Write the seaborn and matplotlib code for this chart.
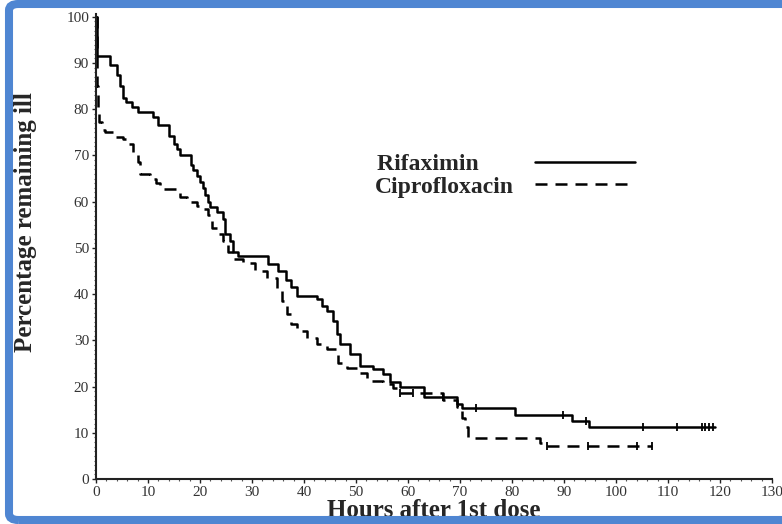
import matplotlib
matplotlib.use("Agg")
import matplotlib.pyplot as plt
import seaborn as sns
import numpy as np
import pandas as pd
from matplotlib.patches import FancyBboxPatch
from matplotlib.ticker import MultipleLocator

# ---- data ----
rif_t = [0, 0.2, 2.7, 4.0, 4.6, 5.2, 5.8, 6.9, 8.1, 11.0, 12.0, 14.0, 15.0, 15.6,
         16.2, 18.3, 18.7, 19.5, 20.0, 20.5, 21.0, 21.5, 21.9, 23.2, 24.4, 24.8,
         25.8, 26.3, 27.3, 33.0, 35.0, 36.5, 37.5, 38.6, 42.5, 43.5, 44.4, 45.6,
         46.3, 46.9, 48.8, 50.8, 53.3, 55.2, 56.5, 58.5, 63.0, 69.4, 70.4, 80.6,
         91.5, 94.8, 119.0]
rif_s = [100, 91.6, 89.5, 87.5, 85, 82.5, 81.5, 80.4, 79.5, 78.3, 76.5, 74.3, 72.5,
         71.4, 70, 68, 66.8, 65.5, 64.3, 63, 61.5, 60, 58.9, 57.8, 56.3, 52.9,
         51.4, 49.2, 48.2, 46.5, 45, 43, 41.5, 39.6, 38.9, 37.5, 36.3, 34.2,
         31.4, 29.2, 27, 24.5, 23.9, 22.8, 20.9, 19.8, 17.7, 16.3, 15.3, 13.8,
         12.5, 11.2, 11.2]
rif_cens_t = [66.7, 73.0, 89.8, 94.3, 105.2, 111.7, 116.5, 117.1, 117.9, 118.7]
rif_cens_s = [17.7, 15.3, 13.8, 12.5, 11.2, 11.2, 11.2, 11.2, 11.2, 11.2]

cip_t = [0, 0.2, 0.4, 0.6, 1.2, 1.7, 3.3, 5.2, 6.2, 7.1, 8.1, 8.5, 10.4, 11.5,
         12.3, 16.2, 17.5, 19.4, 20.6, 21.5, 22.3, 23.2, 24.4, 25.4, 26.3, 28.3,
         30.6, 32.9, 34.8, 35.8, 36.7, 37.5, 38.6, 40.6, 42.5, 44.4, 46.5, 48.3,
         50.2, 52.1, 55.2, 57.1, 58.5, 66.7, 69.4, 70.4, 71.0, 71.5, 85.4, 86.7,
         107.0]
cip_s = [100, 85, 80, 77.2, 75.5, 75, 74, 73.5, 72.5, 70.3, 68.6, 66, 65, 64,
         62.8, 61, 60, 59, 58.5, 57.2, 54.2, 52.9, 51.4, 49.2, 47.6, 46.7,
         45, 43.4, 41.3, 38.5, 35.7, 33.5, 32, 30.5, 29.2, 28.2, 25.2, 24.1,
         23, 21.3, 20.6, 19.6, 18.7, 17, 15.5, 13.3, 11.2, 8.8, 7.7, 7.1,
         7.1]
cip_cens_t = [58.5, 61.0, 86.7, 94.6, 104.0, 107.0]
cip_cens_s = [18.7, 18.7, 7.1, 7.1, 7.1, 7.1]

x_ticks = list(range(0, 131, 10))
y_ticks = list(range(0, 101, 10))

# ---- style ----
sns.set_style("ticks")
plt.rcParams['font.family'] = ['Liberation Serif', 'DejaVu Serif']

fig = plt.figure(figsize=(7.82, 5.24), dpi=100)
ax = fig.add_axes([96/782, 45/524, 676/782, 465/524])

lw = 1.8
rif_df = pd.DataFrame({"t": rif_t, "s": rif_s})
cip_df = pd.DataFrame({"t": cip_t, "s": cip_s})

sns.lineplot(data=rif_df, x="t", y="s", ax=ax, estimator=None, sort=False,
             drawstyle="steps-post", color="black", linewidth=lw,
             label="Rifaximin")
sns.lineplot(data=cip_df, x="t", y="s", ax=ax, estimator=None, sort=False,
             drawstyle="steps-post", color="black", linewidth=lw,
             linestyle=(0, (4.8, 3.2)), label="Ciprofloxacin")

sns.scatterplot(x=rif_cens_t, y=rif_cens_s, ax=ax, marker="|", s=40,
                color="black", linewidth=1.3, legend=False, zorder=3)
sns.scatterplot(x=cip_cens_t, y=cip_cens_s, ax=ax, marker="|", s=40,
                color="black", linewidth=1.3, legend=False, zorder=3)

ax.set_xlim(0, 130)
ax.set_ylim(0, 100.6)
ax.set_xticks(x_ticks)
ax.set_yticks(y_ticks)
ax.xaxis.set_minor_locator(MultipleLocator(2))
ax.yaxis.set_minor_locator(MultipleLocator(1))
ax.tick_params(axis="both", which="major", length=3, width=1, color="#222",
               labelsize=11, labelcolor="#333", pad=2)
ax.tick_params(axis="both", which="minor", length=1.5, width=0.8, color="#555")

for side in ["top", "right"]:
    ax.spines[side].set_visible(False)
for side in ["left", "bottom"]:
    ax.spines[side].set_linewidth(1.5)
    ax.spines[side].set_color("#222")

ax.set_xlabel("Hours after 1st dose", fontsize=18, fontweight="bold")
ax.set_ylabel("Percentage remaining ill", fontsize=18, fontweight="bold")
ax.xaxis.set_label_coords(0.5, -0.042)
ax.yaxis.set_label_coords(-0.087, 0.553)

# legend: labels left, handles right (labels padded to equal width)
handles, labels = ax.get_legend_handles_labels()
pad_labels = ["Rifaximin" + " " * 6, "Ciprofloxacin"]
leg = ax.legend(handles, pad_labels, loc="upper left",
                bbox_to_anchor=(0.413, 0.70), frameon=False,
                markerfirst=False, handlelength=4.2, handletextpad=0.9,
                labelspacing=0.05, borderpad=0, borderaxespad=0,
                prop={"family": "Liberation Serif", "weight": "bold", "size": 17})

# blue rounded frame around the picture (right edge falls outside the image)
border = FancyBboxPatch((9/782, 4/524), (830 - 9)/782, (520 - 4)/524,
                        boxstyle="round,pad=0,rounding_size=0.012",
                        transform=fig.transFigure, fill=False,
                        edgecolor="#4f86d2", linewidth=5.8, zorder=10,
                        clip_on=False)
fig.patches.append(border)

fig.savefig("out.png", dpi=100)
